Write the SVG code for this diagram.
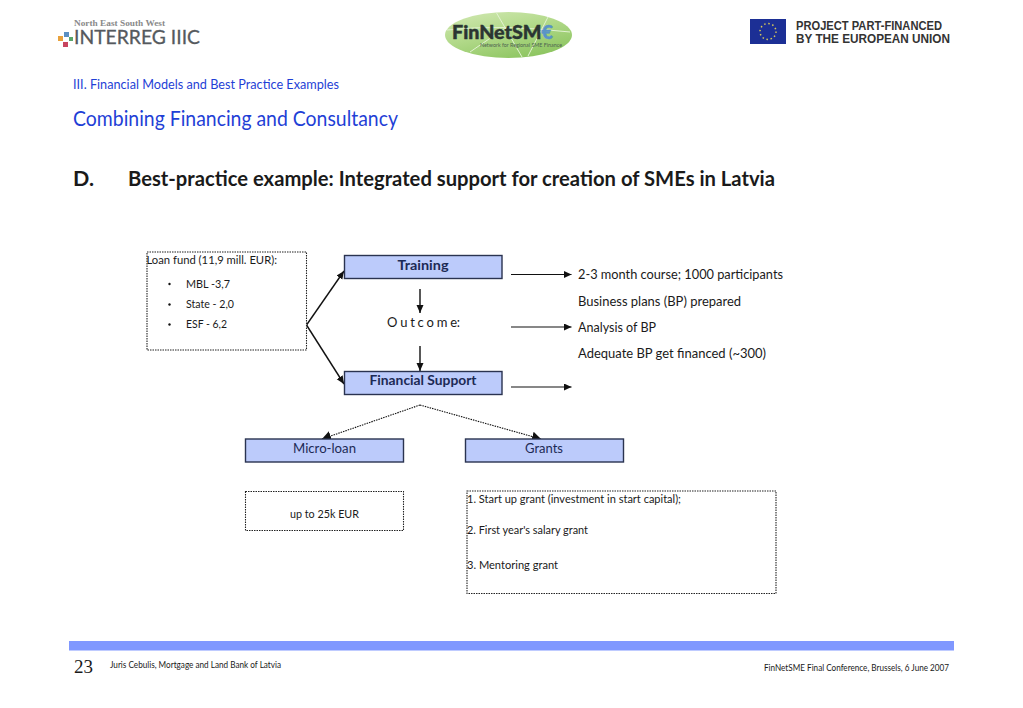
<svg xmlns="http://www.w3.org/2000/svg" width="1023" height="708" viewBox="0 0 1023 708">
<style>
text{font-family:"Lato","Open Sans",sans-serif;fill:#1a1a1a}
.h{fill:#1f3fd6}
.box{fill:#bccbfb;stroke:#2a3350;stroke-width:1.4}
.lab{fill:#1c2a55}
.dot{fill:#fff;stroke:#222;stroke-width:1.1;stroke-dasharray:1.5 1}
.c{fill:none;stroke:#111;stroke-width:1.4}
.r{fill:none;stroke:#111;stroke-width:1.2}
.d{fill:none;stroke:#111;stroke-width:1.1;stroke-dasharray:1.5 1}
.b{font-size:13px;font-weight:700}
.m{text-anchor:middle}
.eu{font-family:"Liberation Sans",sans-serif;font-size:12.5px;font-weight:700;fill:#333}
</style>
<defs>
<marker id="a" markerUnits="userSpaceOnUse" markerWidth="10" markerHeight="8" refX="8" refY="3.500" orient="auto"><path d="M0 0L8 3.500L0 7Z" fill="#111"/></marker>
<marker id="s" markerUnits="userSpaceOnUse" markerWidth="9" markerHeight="8" refX="7.500" refY="3.500" orient="auto"><path d="M0 0L7.500 3.500L0 7Z" fill="#111"/></marker>
<marker id="w" markerUnits="userSpaceOnUse" markerWidth="11" markerHeight="11" refX="9" refY="5" orient="auto"><path d="M0 0L9 5L0 10Z" fill="#111"/></marker>
<linearGradient id="g" x1="0" y1="0" x2="0.600" y2="1"><stop offset="0" stop-color="#d3e9b4"/><stop offset="0.500" stop-color="#b3da8b"/><stop offset="1" stop-color="#8fc663"/></linearGradient>
</defs>
<rect width="1023" height="708" fill="#fff"/>
<g id="logo-interreg">
<text x="74" y="25.500" font-size="8.500" font-weight="700" style="font-family:'Liberation Serif',serif;fill:#8a8a8a" textLength="91" lengthAdjust="spacingAndGlyphs">North East South West</text>
<text x="74" y="43.500" font-size="20" style="fill:#55595e;stroke:#55595e;stroke-width:.3" textLength="126" lengthAdjust="spacingAndGlyphs">INTERREG IIIC</text>
<rect x="58" y="36" width="5" height="5" fill="#e8a13c"/><rect x="64" y="32" width="5" height="5" fill="#5b8fc2"/><rect x="69" y="37" width="4" height="4" fill="#5aa56a"/><rect x="63" y="42" width="5" height="5" fill="#c8455f"/>
</g>
<g id="logo-finnetsme">
<ellipse cx="508.500" cy="35" rx="63.500" ry="23" fill="url(#g)"/>
<path d="M447 30Q500 24 570 32M496 12L522 57M470 52L505 28M548 17L528 56" fill="none" stroke="#e2f2d2" stroke-width="1"/>
<text x="452" y="38.500" font-size="18" font-weight="900" style="fill:#2b3532;stroke:#2b3532;stroke-width:.4" textLength="101" lengthAdjust="spacingAndGlyphs">FinNetSM<tspan style="fill:#5a93c8;stroke:#5a93c8">€</tspan></text>
<text x="480" y="46.500" font-size="6" style="fill:#4d6250" textLength="82" lengthAdjust="spacingAndGlyphs">Network for Regional SME Finance</text>
</g>
<g id="logo-eu">
<rect x="750" y="19" width="36" height="25" fill="#1c2f95"/>
<circle cx="768" cy="31.500" r="8" fill="none" stroke="#d8c95a" stroke-width="1.500" stroke-dasharray="1.500 2.690"/>
<text class="eu" x="796" y="30" textLength="146" lengthAdjust="spacingAndGlyphs">PROJECT PART-FINANCED</text>
<text class="eu" x="796" y="43" textLength="154" lengthAdjust="spacingAndGlyphs">BY THE EUROPEAN UNION</text>
</g>
<g id="heading">
<text class="h" x="73" y="89" font-size="13" textLength="266" lengthAdjust="spacingAndGlyphs">III. Financial Models and Best Practice Examples</text>
<text class="h" x="73" y="126" font-size="21" textLength="325" lengthAdjust="spacingAndGlyphs">Combining Financing and Consultancy</text>
<text x="73" y="186" font-size="21" font-weight="700" textLength="21" lengthAdjust="spacingAndGlyphs">D.</text>
<text x="128" y="186" font-size="21" font-weight="700" textLength="647" lengthAdjust="spacingAndGlyphs">Best-practice example: Integrated support for creation of SMEs in Latvia</text>
</g>
<g id="connectors">
<path class="c" d="M306.500 325L344 271" marker-end="url(#a)"/>
<path class="c" d="M306.500 325L344 384" marker-end="url(#a)"/>
<path class="c" d="M420 289V313" marker-end="url(#a)"/>
<path class="c" d="M420 346V371" marker-end="url(#a)"/>
<path class="r" d="M511 274.500H571.500" marker-end="url(#s)"/>
<path class="r" d="M511 327H571.500" marker-end="url(#s)"/>
<path class="r" d="M511 387H571.500" marker-end="url(#s)"/>
<path class="d" d="M420 405L322 439" marker-end="url(#w)"/>
<path class="d" d="M420 405L541 439" marker-end="url(#w)"/>
</g>
<g id="loan-fund">
<rect class="dot" x="147" y="252" width="159.500" height="98"/>
<text x="146.500" y="264" font-size="12" textLength="130.500" lengthAdjust="spacingAndGlyphs">Loan fund (11,9 mill. EUR):</text>
<circle cx="169.500" cy="284" r="1.200" fill="#111"/><text x="186" y="288" font-size="12" textLength="44" lengthAdjust="spacingAndGlyphs">MBL -3,7</text>
<circle cx="169.500" cy="304.500" r="1.200" fill="#111"/><text x="186" y="308" font-size="12" textLength="48" lengthAdjust="spacingAndGlyphs">State - 2,0</text>
<circle cx="169.500" cy="324.500" r="1.200" fill="#111"/><text x="186" y="328" font-size="12" textLength="41" lengthAdjust="spacingAndGlyphs">ESF - 6,2</text>
</g>
<g id="training">
<rect class="box" x="344.500" y="255.500" width="157.500" height="23"/>
<text class="b m lab" x="423" y="270" textLength="51" lengthAdjust="spacingAndGlyphs">Training</text>
</g>
<g id="outcome">
<text x="387" y="327" font-size="13" textLength="73" lengthAdjust="spacing">O u t c o m e:</text>
</g>
<g id="financial-support">
<rect class="box" x="344.500" y="371.500" width="157.500" height="23"/>
<text class="b m lab" x="423" y="385" textLength="107" lengthAdjust="spacingAndGlyphs">Financial Support</text>
</g>
<g id="outcomes-list">
<text x="578" y="279" font-size="13.500" textLength="205" lengthAdjust="spacingAndGlyphs">2-3 month course; 1000 participants</text>
<text x="578" y="306" font-size="13.500" textLength="163" lengthAdjust="spacingAndGlyphs">Business plans (BP) prepared</text>
<text x="578" y="332" font-size="13.500" textLength="78" lengthAdjust="spacingAndGlyphs">Analysis of BP</text>
<text x="578" y="358" font-size="13.500" textLength="188" lengthAdjust="spacingAndGlyphs">Adequate BP get financed (~300)</text>
</g>
<g id="micro-loan">
<rect class="box" x="245.500" y="439" width="158" height="23"/>
<text class="m lab" x="324.500" y="453" font-size="13" textLength="63" lengthAdjust="spacingAndGlyphs">Micro-loan</text>
</g>
<g id="grants">
<rect class="box" x="465.500" y="439" width="158" height="23"/>
<text class="m lab" x="544" y="453" font-size="13" textLength="38" lengthAdjust="spacingAndGlyphs">Grants</text>
</g>
<g id="micro-detail">
<rect class="dot" x="245.500" y="491.500" width="158" height="39"/>
<text class="m" x="324.500" y="518" font-size="11.500" textLength="69" lengthAdjust="spacingAndGlyphs">up to 25k EUR</text>
</g>
<g id="grants-detail">
<rect class="dot" x="467" y="491" width="309" height="102.500"/>
<text x="467" y="503" font-size="12" textLength="214" lengthAdjust="spacingAndGlyphs">1. Start up grant (investment in start capital);</text>
<text x="467" y="534" font-size="12" textLength="121" lengthAdjust="spacingAndGlyphs">2. First year's salary grant</text>
<text x="467" y="569" font-size="12" textLength="91" lengthAdjust="spacingAndGlyphs">3. Mentoring grant</text>
</g>
<g id="footer">
<rect x="69" y="641" width="885" height="9.500" fill="#8098ff"/>
<text x="74" y="673" font-size="19" style="font-family:'Liberation Serif',serif" textLength="19" lengthAdjust="spacingAndGlyphs">23</text>
<text x="110" y="668" font-size="8.500" textLength="171" lengthAdjust="spacingAndGlyphs">Juris Cebulis, Mortgage and Land Bank of Latvia</text>
<text x="764" y="671" font-size="8.500" textLength="185" lengthAdjust="spacingAndGlyphs">FinNetSME Final Conference, Brussels, 6 June 2007</text>
</g>
</svg>
